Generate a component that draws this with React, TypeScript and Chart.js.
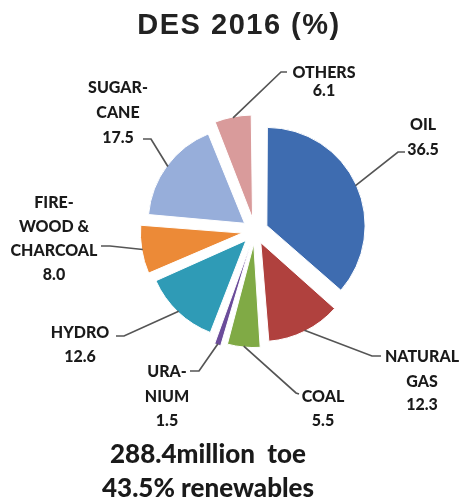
import React, { useEffect, useRef } from 'react';
import { Chart, registerables } from 'chart.js';

Chart.register(...registerables);

// ---- data ----
const categories = ['OIL', 'NATURAL GAS', 'COAL', 'URANIUM', 'HYDRO', 'FIREWOOD & CHARCOAL', 'SUGAR-CANE', 'OTHERS'];
const shares = [36.5, 12.3, 5.5, 1.5, 12.6, 8.0, 17.5, 6.1];
const labelNames = [['OIL'], ['NATURAL', 'GAS'], ['COAL'], ['URA-', 'NIUM'], ['HYDRO'], ['FIRE-', 'WOOD &', 'CHARCOAL'], ['SUGAR-', 'CANE'], ['OTHERS']];
const titleText = 'DES 2016 (%)';
const footerLines = ['288.4million  toe', '43.5% renewables'];

// ---- style ----
const sliceColors = ['#3E6CB0', '#B0413E', '#80AA45', '#6B4C9A', '#2F9BB6', '#EC8A37', '#97AEDA', '#D99B9B'];

// label layout: text centre x, line centre y's, leader anchor and elbow
const labelLayout = [
  { x: 423, ys: [125, 150], anchor: [405, 152], elbow: [398, 152] },
  { x: 422, ys: [357, 382, 405], anchor: [381, 356], elbow: [372, 356] },
  { x: 323, ys: [397, 421], anchor: [299, 394], elbow: [296, 393] },
  { x: 167, ys: [372, 397, 421], anchor: [190, 371], elbow: [199, 371] },
  { x: 80, ys: [333, 357], anchor: [116, 336], elbow: [124, 336] },
  { x: 54, ys: [203, 227, 251, 275], anchor: [101, 246], elbow: [110, 246] },
  { x: 118, ys: [88, 113, 138], anchor: [143, 139], elbow: [151, 139] },
  { x: 324, ys: [73, 91], anchor: [287, 72], elbow: [281, 72] },
];

const LABEL_FONT = '900 16px Lato, "Open Sans", sans-serif';

const labelPlugin = {
  id: 'desLabels',
  afterDraw(chart: any) {
    const ctx: CanvasRenderingContext2D = chart.ctx;
    const meta = chart.getDatasetMeta(0);
    ctx.save();
    // title
    ctx.fillStyle = '#222';
    ctx.font = 'bold 29px "Liberation Sans", Arial, sans-serif';
    (ctx as any).letterSpacing = '1.5px';
    ctx.textAlign = 'center';
    ctx.textBaseline = 'middle';
    ctx.fillText(titleText, 239, 26);
    (ctx as any).letterSpacing = '0px';

    meta.data.forEach((arc: any, i: number) => {
      const p = arc.getProps(['x', 'y', 'startAngle', 'endAngle', 'outerRadius', 'circumference'], true);
      const off = (arc.options.offset || 0) / 4;
      const h = (p.startAngle + p.endAngle) / 2;
      const fix = 1 - Math.sin(Math.min(Math.PI, p.circumference));
      const r = p.outerRadius + off * fix;
      const cx = p.x + Math.cos(h) * off;
      const cy = p.y + Math.sin(h) * off;
      const px = cx + Math.cos(h) * (r - 1);
      const py = cy + Math.sin(h) * (r - 1);
      const L = labelLayout[i];
      ctx.strokeStyle = '#555555';
      ctx.lineWidth = 1.7;
      ctx.beginPath();
      ctx.moveTo(px, py);
      ctx.lineTo(L.elbow[0], L.elbow[1]);
      ctx.lineTo(L.anchor[0], L.anchor[1]);
      ctx.stroke();

      const lines = [...labelNames[i], shares[i].toFixed(1)];
      ctx.fillStyle = '#1a1a1a';
      ctx.font = LABEL_FONT;
      ctx.textAlign = 'center';
      ctx.textBaseline = 'middle';
      lines.forEach((t, k) => ctx.fillText(t, L.x, L.ys[k]));
    });

    // footer
    ctx.fillStyle = '#1a1a1a';
    ctx.font = '900 26px Lato, "Open Sans", sans-serif';
    ctx.textAlign = 'center';
    ctx.textBaseline = 'middle';
    ctx.fillText(footerLines[0], 208, 455);
    ctx.fillText(footerLines[1], 208, 489);
    ctx.restore();
  },
};

export default function App() {
  const ref = useRef<HTMLCanvasElement | null>(null);
  useEffect(() => {
    if (!ref.current) return;
    const chart = new Chart(ref.current, {
      type: 'pie',
      data: {
        labels: categories,
        datasets: [
          {
            data: shares,
            backgroundColor: sliceColors,
            borderColor: '#ffffff',
            borderWidth: 1,
            offset: 52,
            hoverOffset: 0,
          },
        ],
      },
      options: {
        responsive: false,
        animation: false,
        events: [],
        radius: 95,
        layout: { padding: { left: 80, right: 39, top: 100, bottom: 141 } },
        plugins: {
          legend: { display: false },
          title: { display: false },
          tooltip: { enabled: false },
        },
      },
      plugins: [labelPlugin],
    });
    return () => chart.destroy();
  }, []);
  return (
    <div style={{ position: 'fixed', left: 0, top: 0, width: 469, height: 503, background: '#fff' }}>
      <canvas ref={ref} width={469} height={503} />
    </div>
  );
}
